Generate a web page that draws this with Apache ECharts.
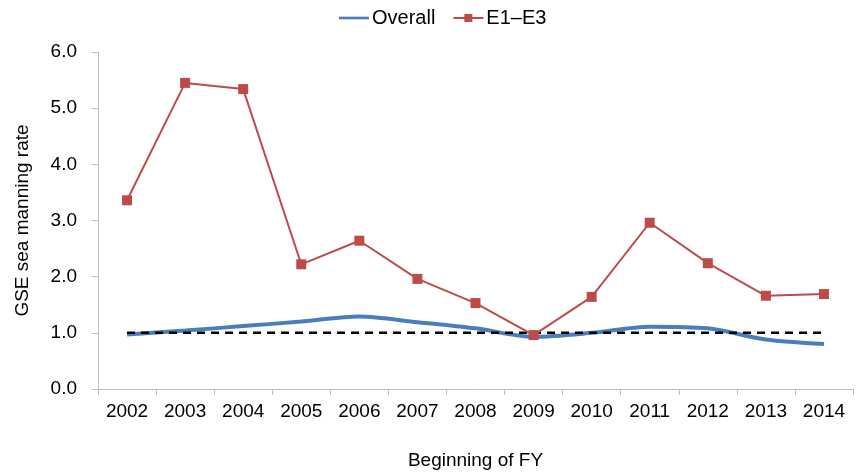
<!DOCTYPE html>
<html><head><meta charset="utf-8">
<script src="https://cdn.jsdelivr.net/npm/echarts@6/dist/echarts.min.js"></script>
<style>html,body{margin:0;padding:0;background:#fff}#c{width:857px;height:476px}</style>
</head><body><div id="c"></div>
<script>
const categories = ['2002','2003','2004','2005','2006','2007','2008','2009','2010','2011','2012','2013','2014'];
const overall = [0.97,1.04,1.12,1.20,1.29,1.19,1.08,0.93,1.00,1.11,1.08,0.88,0.80];
const e1e3 = [3.36,5.45,5.34,2.22,2.64,1.96,1.53,0.96,1.64,2.96,2.24,1.66,1.69];
const baseline = [1,1,1,1,1,1,1,1,1,1,1,1,1];
const yTicks = [0,1,2,3,4,5,6];

const chart = echarts.init(document.getElementById('c'));
const font = 'Liberation Sans, Arial, sans-serif';
chart.setOption({
  animation: false,
  textStyle: {fontFamily: font},
  legend: {
    top: 3, left: 334, itemGap: 17, itemWidth: 30, itemHeight: 10,
    textStyle: {fontSize: 20, color: '#000', fontFamily: font, padding: [0, 0, 0, -2]},
    data: [
      {name: 'Overall', icon: 'path://M0,4 L34,4 L34,7 L0,7 Z'},
      {name: 'E1–E3'}
    ]
  },
  grid: {left: 98, right: 4, top: 52, bottom: 87},
  xAxis: {
    type: 'category', data: categories, boundaryGap: true,
    name: 'Beginning of FY', nameLocation: 'middle', nameGap: 62,
    nameTextStyle: {fontSize: 19, color: '#000', fontFamily: font},
    axisLine: {lineStyle: {color: '#bfbfbf', width: 1}},
    axisTick: {show: true, alignWithLabel: false, length: 6, lineStyle: {color: '#bfbfbf'}},
    axisLabel: {fontSize: 19, color: '#000', margin: 13, fontFamily: font}
  },
  yAxis: {
    type: 'value', min: yTicks[0], max: yTicks[yTicks.length-1], interval: 1,
    name: 'GSE sea manning rate', nameLocation: 'middle', nameGap: 66,
    nameTextStyle: {fontSize: 19, color: '#000', fontFamily: font},
    axisLine: {show: true, lineStyle: {color: '#bfbfbf', width: 1}},
    axisTick: {show: true, length: 6, lineStyle: {color: '#bfbfbf'}},
    splitLine: {show: false},
    axisLabel: {fontSize: 19, color: '#000', margin: 21, fontFamily: font, formatter: v => v.toFixed(1)}
  },
  series: [
    {
      name: 'Overall', type: 'line', data: overall, smooth: 0.3,
      symbol: 'none', lineStyle: {color: '#4a7ebb', width: 4}, itemStyle: {color: '#4a7ebb'}, z: 3
    },
    {
      name: 'baseline', type: 'line', data: baseline, symbol: 'none',
      lineStyle: {color: '#000', width: 2.5, type: [8, 6]}, itemStyle: {color: '#000'}, z: 4
    },
    {
      name: 'E1–E3', type: 'line', data: e1e3, symbol: 'rect', symbolSize: 10,
      lineStyle: {color: '#be4b48', width: 2}, itemStyle: {color: '#be4b48'}, z: 5
    }
  ]
});
</script>
</body></html>
